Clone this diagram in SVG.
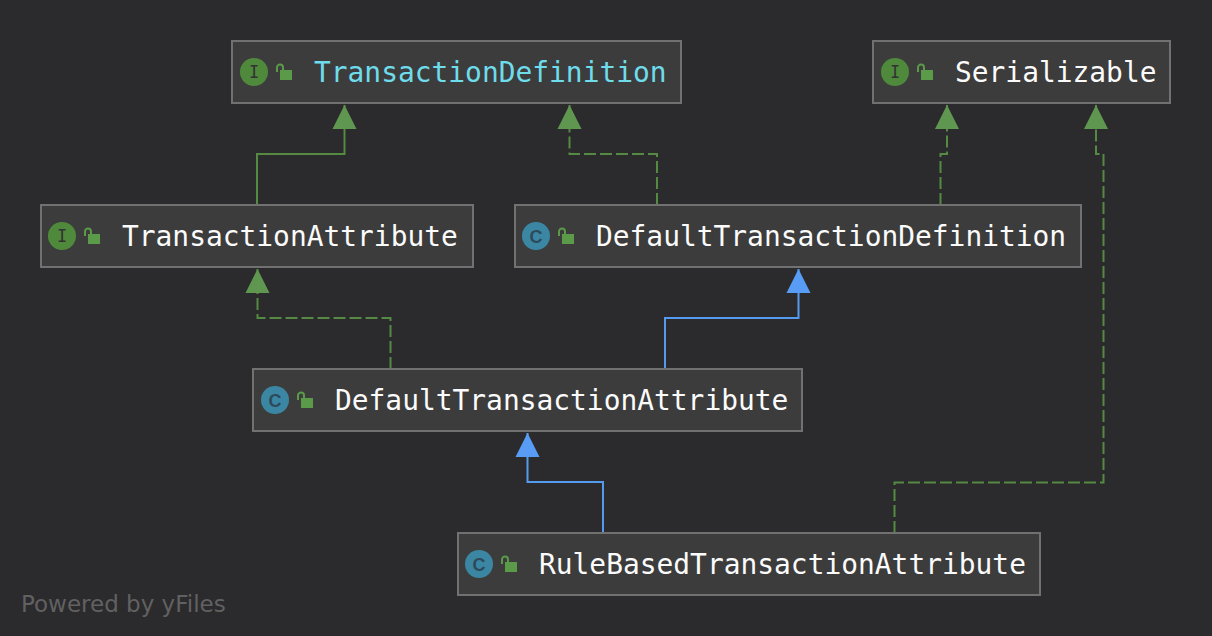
<svg xmlns="http://www.w3.org/2000/svg" width="1212" height="636" viewBox="0 0 1212 636">
<style>
.box{fill:#3c3c3c;stroke:#717171;stroke-width:2}
.name{font-family:"DejaVu Sans Mono","Liberation Mono",monospace;font-size:27.9px;fill:#fbfbfb}
.blue{fill:#6fdcec}
.badge{font-family:"DejaVu Sans Mono","Liberation Mono",monospace;font-size:17px;font-weight:400;fill:#333;text-anchor:middle}
.badgec{font-family:"Liberation Sans",sans-serif;font-size:18px;font-weight:700;fill:#2d4a5c;text-anchor:middle}
.edge{fill:none;stroke-width:2}
.g{stroke:#548a42}
.b{stroke:#549bf0}
.dash{stroke-dasharray:12 4}
.foot{font-family:"DejaVu Sans","Liberation Sans",sans-serif;font-size:23px;fill:#616161}
</style>
<defs>
<g id="lock">
<path d="M-7 0V-4.500a3 3 0 0 1 6 0V-2" fill="none" stroke="#5a9a48" stroke-width="2"/>
<rect x="-4" y="-2" width="12" height="10" fill="#5a9a48"/>
</g>
<marker id="ag" markerUnits="userSpaceOnUse" markerWidth="26" markerHeight="26" refX="24" refY="12.500" orient="auto"><path d="M0 0.500L24 12.500L0 24.500Z" fill="#5f9650"/></marker>
<marker id="ab" markerUnits="userSpaceOnUse" markerWidth="26" markerHeight="26" refX="24" refY="12.500" orient="auto"><path d="M0 0.500L24 12.500L0 24.500Z" fill="#589cf5"/></marker>
</defs>
<rect width="1212" height="636" fill="#2b2a2d"/>
<g id="connectors">
<path class="edge g" marker-end="url(#ag)" d="M257 205V154H344.500V105"/>
<path class="edge g dash" marker-end="url(#ag)" d="M657 205V154H569.500V105"/>
<path class="edge g dash" marker-end="url(#ag)" d="M940.500 205V154H947V105"/>
<path class="edge g dash" marker-end="url(#ag)" d="M894.500 533V482.500H1103.500V154H1096V105"/>
<path class="edge g dash" marker-end="url(#ag)" d="M390.500 369V318H257.500V269"/>
<path class="edge b" marker-end="url(#ab)" d="M665 369V318H798.500V269"/>
<path class="edge b" marker-end="url(#ab)" d="M603 533V482H527.500V433"/>
</g>
<g id="node-transaction-definition">
<rect class="box" x="232" y="41" width="449" height="62"/>
<circle cx="254" cy="72" r="14" fill="#4f8a3c"/><text class="badge" x="254" y="78">I</text>
<use href="#lock" x="284" y="72"/>
<text class="name blue" x="314" y="82">TransactionDefinition</text>
</g>
<g id="node-serializable">
<rect class="box" x="873" y="41" width="297" height="62"/>
<circle cx="895" cy="72" r="14" fill="#4f8a3c"/><text class="badge" x="895" y="78">I</text>
<use href="#lock" x="925" y="72"/>
<text class="name" x="955" y="82">Serializable</text>
</g>
<g id="node-transaction-attribute">
<rect class="box" x="41" y="205" width="432" height="62"/>
<circle cx="62" cy="236" r="14" fill="#4f8a3c"/><text class="badge" x="62" y="242">I</text>
<use href="#lock" x="92" y="236"/>
<text class="name" x="122" y="246">TransactionAttribute</text>
</g>
<g id="node-default-transaction-definition">
<rect class="box" x="515" y="205" width="566" height="62"/>
<circle cx="536" cy="236" r="14" fill="#3b87a3"/><text class="badgec" x="536" y="242.500">C</text>
<use href="#lock" x="566" y="236"/>
<text class="name" x="596" y="246">DefaultTransactionDefinition</text>
</g>
<g id="node-default-transaction-attribute">
<rect class="box" x="253" y="369" width="549" height="62"/>
<circle cx="275" cy="400" r="14" fill="#3b87a3"/><text class="badgec" x="275" y="406.500">C</text>
<use href="#lock" x="305" y="400"/>
<text class="name" x="335" y="410">DefaultTransactionAttribute</text>
</g>
<g id="node-rule-based-transaction-attribute">
<rect class="box" x="458" y="533" width="582" height="62"/>
<circle cx="479" cy="564" r="14" fill="#3b87a3"/><text class="badgec" x="479" y="570.500">C</text>
<use href="#lock" x="509" y="564"/>
<text class="name" x="539" y="574">RuleBasedTransactionAttribute</text>
</g>
<text class="foot" x="21" y="612">Powered by yFiles</text>
</svg>
